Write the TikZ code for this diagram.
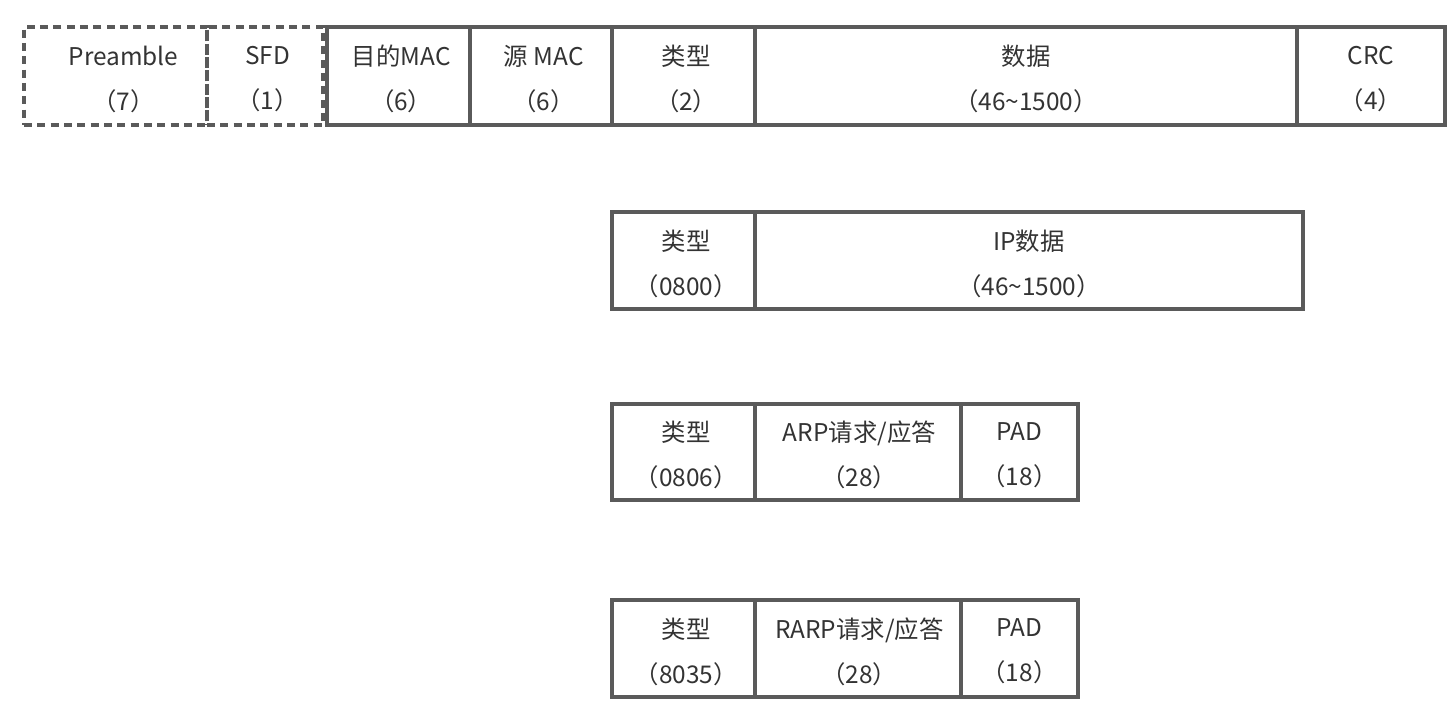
\documentclass[tikz,border=0pt]{standalone}
\usepackage{fontspec}
\setmainfont{Noto Sans CJK SC}
\definecolor{linec}{HTML}{5A5A5A}
\definecolor{textc}{HTML}{333333}
\tikzset{
  cell/.style n args={2}{draw=linec, line width=2.6pt, anchor=north west, inner sep=0pt, outer sep=0pt,
    minimum width=#1*0.75pt, minimum height=#2*0.75pt},
  dcell/.style n args={2}{cell={#1}{#2}, dash pattern=on 6pt off 4pt},
  lbl/.style={anchor=center, inner sep=0pt, align=center, text=textc, yshift=-2.3pt,
    font=\fontsize{18.3}{33.75}\selectfont},
}
\begin{document}
\begin{tikzpicture}[x=0.75pt,y=-0.75pt]
\useasboundingbox (0,0) rectangle (1455,702);
% row 1
\node[dcell={183}{98}] (pre) at (24,27) {};
\node[dcell={116}{98}] (sfd) at (207,27) {};
\node[cell={143}{98}] (dmac) at (327,27) {};
\node[cell={142}{98}] (smac) at (470,27) {};
\node[cell={143}{98}] (type1) at (612,27) {};
\node[cell={542}{98}] (data) at (755,27) {};
\node[cell={148}{98}] (crc) at (1297,27) {};
\node[lbl, xshift=6pt] (preT) at (pre.center) {Preamble\\（7）};
\node[lbl, xshift=2pt] (sfdT) at (sfd.center) {SFD\\（1）};
\node[lbl, xshift=2pt] (dmacT) at (dmac.center) {目的MAC\\（6）};
\node[lbl, xshift=2pt] (smacT) at (smac.center) {源 MAC\\（6）};
\node[lbl, xshift=2pt] (type1T) at (type1.center) {类型\\（2）};
\node[lbl] (dataT) at (data.center) {数据\\（46\textasciitilde1500）};
\node[lbl] (crcT) at (crc.center) {CRC\\（4）};
% row 2
\node[cell={143}{97}] (type2) at (612,212) {};
\node[cell={548}{97}] (ip) at (755,212) {};
\node[lbl, xshift=2pt] (type2T) at (type2.center) {类型\\（0800）};
\node[lbl] (ipT) at (ip.center) {IP数据\\（46\textasciitilde1500）};
% row 3
\node[cell={143}{96}] (type3) at (612,404) {};
\node[cell={206}{96}] (arp) at (755,404) {};
\node[cell={117}{96}] (pad3) at (961,404) {};
\node[lbl, xshift=2pt] (type3T) at (type3.center) {类型\\（0806）};
\node[lbl, xshift=1pt] (arpT) at (arp.center) {ARP请求/应答\\（28）};
\node[lbl] (pad3T) at (pad3.center) {PAD\\（18）};
% row 4
\node[cell={143}{97}] (type4) at (612,600) {};
\node[cell={206}{97}] (rarp) at (755,600) {};
\node[cell={117}{97}] (pad4) at (961,600) {};
\node[lbl, xshift=2pt] (type4T) at (type4.center) {类型\\（8035）};
\node[lbl, xshift=1pt] (rarpT) at (rarp.center) {RARP请求/应答\\（28）};
\node[lbl] (pad4T) at (pad4.center) {PAD\\（18）};
\end{tikzpicture}
\end{document}
